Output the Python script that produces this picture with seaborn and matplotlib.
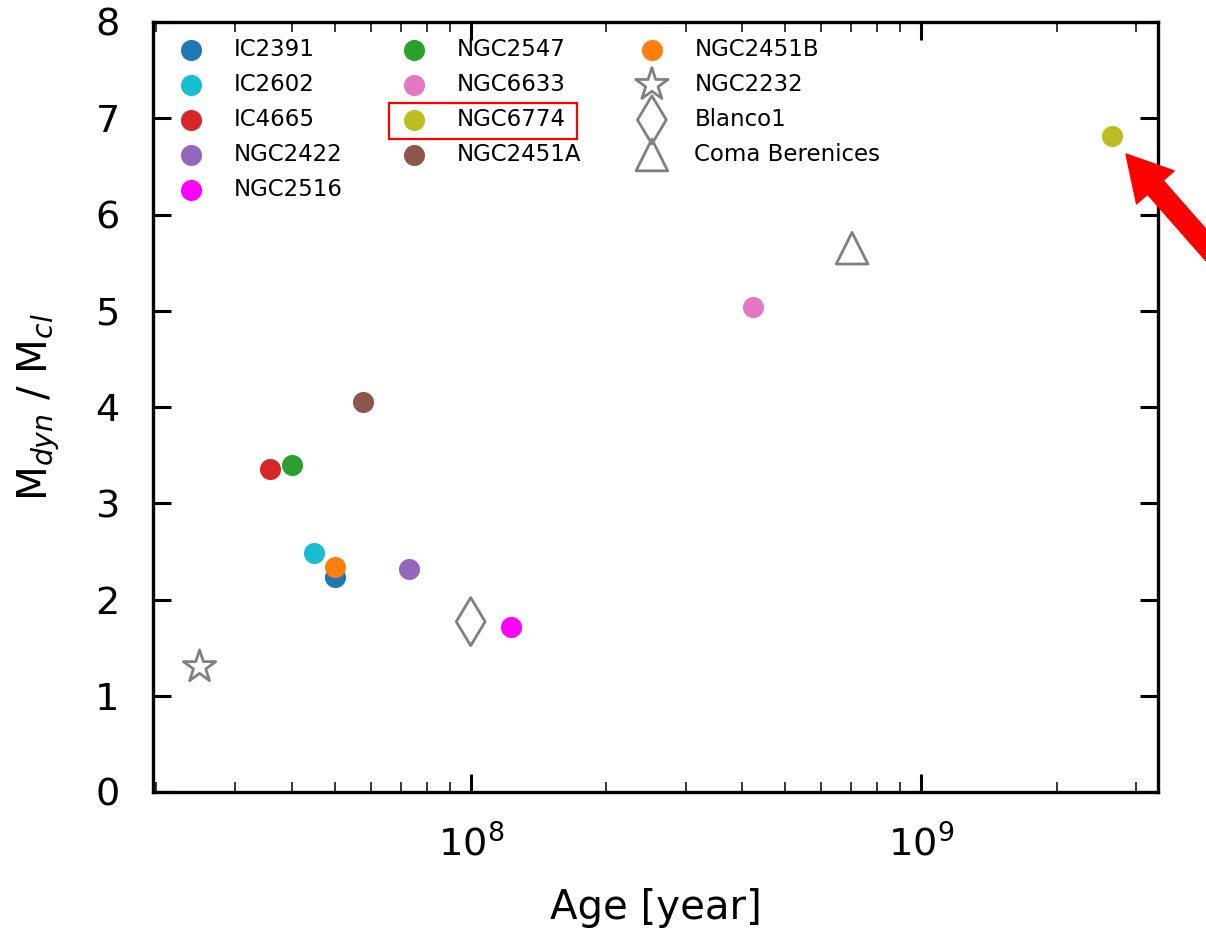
import numpy as np
import pandas as pd
import matplotlib
matplotlib.use("Agg")
import matplotlib.pyplot as plt
import seaborn as sns
from matplotlib.patches import Rectangle

# ---- data ----
clusters = ["IC2391", "IC2602", "IC4665", "NGC2422", "NGC2516",
            "NGC2547", "NGC6633", "NGC6774", "NGC2451A", "NGC2451B",
            "NGC2232", "Blanco1", "Coma Berenices"]
ages = [5.0e7, 4.49e7, 3.58e7, 7.29e7, 1.23e8,
        4.01e7, 4.24e8, 2.65e9, 5.76e7, 4.99e7,
        2.50e7, 1.0e8, 7.03e8]
ratios = [2.23, 2.48, 3.36, 2.32, 1.71,
          3.40, 5.04, 6.82, 4.05, 2.34,
          1.30, 1.77, 5.65]
colors = ["tab:blue", "tab:cyan", "tab:red", "tab:purple", "magenta",
          "tab:green", "tab:pink", "tab:olive", "tab:brown", "tab:orange",
          "gray", "gray", "gray"]
markers = ["o"] * 10 + ["*", "d", "^"]
filled = [True] * 10 + [False] * 3

df = pd.DataFrame({"cluster": clusters, "age": ages, "ratio": ratios})

sns.set_style("white")
plt.rcParams["font.family"] = ["DejaVu Sans"]
plt.rcParams["text.color"] = "black"
plt.rcParams["axes.labelcolor"] = "black"

fig = plt.figure(figsize=(12.06, 9.35), dpi=100)
ax = fig.add_axes([153 / 1206, 1 - 792 / 935, (1158 - 153) / 1206, (792 - 22) / 935])

sizes = {"o": 230, "*": 600, "d": 600, "^": 520}
for i, row in df.iterrows():
    m = markers[i]
    if filled[i]:
        sns.scatterplot(x=[row["age"]], y=[row["ratio"]], ax=ax, color=colors[i],
                        marker=m, s=sizes[m], linewidth=0, label=row["cluster"])
    else:
        sns.scatterplot(x=[row["age"]], y=[row["ratio"]], ax=ax, marker=m,
                        s=sizes[m], facecolor="none", edgecolor=colors[i],
                        linewidth=2, label=row["cluster"])

ax.set_xscale("log")
ax.set_xlim(1.97e7, 3.36e9)
ax.set_ylim(0, 8)
ax.set_yticks(range(0, 9))

ax.set_xlabel("Age [year]", fontsize=29, labelpad=17)
ax.set_ylabel(r"M$_{dyn}$ / M$_{cl}$", fontsize=29, labelpad=23)

for s in ax.spines.values():
    s.set_linewidth(2.4)
    s.set_color("black")
ax.tick_params(which="both", direction="in", top=True, right=True,
               bottom=True, left=True, colors="black")
ax.tick_params(which="major", length=13, width=2.2, labelsize=27.5)
ax.tick_params(axis="x", which="major", pad=24)
ax.tick_params(axis="y", which="major", pad=24)
ax.tick_params(which="minor", length=7, width=1.1)
ax.tick_params(axis="y", which="minor", left=False, right=False)

leg = ax.legend(ncol=3, loc="upper left", frameon=False, fontsize=16.5,
                bbox_to_anchor=(0.0, 1.0), labelspacing=0.53,
                columnspacing=2.1, handletextpad=0.85, borderaxespad=0.28)
for t in leg.get_texts():
    t.set_color("black")

# highlight box around the NGC6774 legend entry
fig.patches.append(Rectangle((389 / 1206, 1 - 139 / 935), 188 / 1206, 36 / 935,
                             transform=fig.transFigure, fill=False,
                             edgecolor="red", linewidth=1.6, zorder=10))

# red arrow pointing to NGC6774
fig_h = 935
ax.annotate("", xy=(1126, fig_h - 154), xycoords="figure pixels",
            xytext=(1235, fig_h - 278), textcoords="figure pixels",
            arrowprops=dict(facecolor="red", edgecolor="red", width=15,
                            headwidth=36, headlength=32, shrink=0),
            annotation_clip=False)

fig.savefig("out.png", dpi=100)
